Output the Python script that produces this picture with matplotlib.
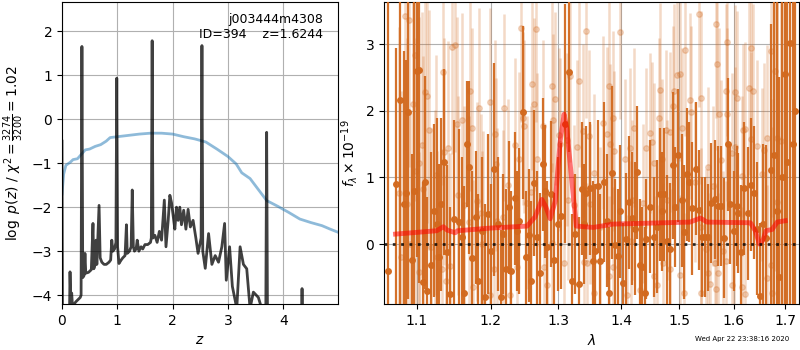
"""Redshift fit summary: log p(z) panel and 1D spectrum panel."""

import matplotlib
matplotlib.use("Agg")
import matplotlib.pyplot as plt
from matplotlib.ticker import FixedLocator, NullLocator, FormatStrFormatter
import numpy as np

# ---- left panel: p(z) and scaled chi2 ----
pz_z = [0.0, 0.01, 0.13, 0.145, 0.16, 0.175, 0.19, 0.25, 0.33, 0.345, 0.36, 0.375,
        0.40, 0.415, 0.43, 0.48, 0.53, 0.56, 0.575, 0.60, 0.615, 0.63, 0.67, 0.69,
        0.72, 0.76, 0.80, 0.85, 0.88, 0.90, 0.92, 0.95, 0.975, 0.99, 1.005, 1.03,
        1.07, 1.10, 1.14, 1.165, 1.18, 1.22, 1.25, 1.27, 1.29, 1.31, 1.34, 1.36,
        1.39, 1.43, 1.46, 1.50, 1.55, 1.60, 1.615, 1.63, 1.645, 1.68, 1.72, 1.76,
        1.80, 1.85, 1.88, 1.92, 1.95, 1.98, 2.01, 2.04, 2.07, 2.10, 2.13, 2.16,
        2.20, 2.24, 2.28, 2.32, 2.37, 2.42, 2.46, 2.50, 2.515, 2.53, 2.545, 2.59,
        2.65, 2.71, 2.77, 2.83, 2.89, 2.94, 2.97, 3.03, 3.08, 3.16, 3.22, 3.28,
        3.34, 3.40, 3.46, 3.55, 3.61, 3.685, 3.70, 3.715, 3.73, 4.32, 4.34, 4.36, 4.99]
pz_log = [-0.5, -5.0, -5.0, -3.47, -4.2, -3.95, -4.25, -4.15, -4.05, -4.0, 1.65, -3.6,
          -3.55, -3.05, -3.5, -3.48, -3.42, -2.37, -3.4, -3.3, -2.75, -3.3, -1.96, -3.15,
          -3.25, -3.3, -3.3, -3.25, -3.2, -2.75, -3.0, -2.95, -2.8, 0.93, -2.9, -3.28,
          -3.2, -3.15, -3.1, -2.4, -3.05, -3.0, -2.9, -1.61, -2.9, -3.0, -2.95, -2.75,
          -3.0, -2.9, -2.95, -2.85, -2.85, -2.8, -2.7, 1.78, -2.7, -2.64, -2.8, -2.55,
          -2.75, -1.84, -2.9, -2.3, -1.73, -1.9, -2.2, -2.5, -2.0, -2.3, -2.0, -2.4,
          -2.07, -2.5, -2.05, -2.45, -2.3, -2.7, -3.05, -2.8, -2.7, 1.67, -3.0, -3.39,
          -2.6, -3.3, -3.1, -3.25, -2.9, -2.37, -3.66, -2.9, -3.8, -4.3, -2.9, -3.3,
          -3.4, -4.3, -3.93, -4.05, -4.3, -4.3, -0.3, -4.5, -5.0, -5.0, -3.85, -5.0, -5.0]

chi2_z = [0.0, 0.03, 0.07, 0.15, 0.2, 0.28, 0.35, 0.42, 0.5, 0.6, 0.7, 0.8, 0.87,
          1.0, 1.2, 1.4, 1.6, 1.8, 2.0, 2.2, 2.4, 2.6, 2.8, 3.0, 3.15, 3.25, 3.4,
          3.55, 3.7, 3.9, 4.1, 4.3, 4.5, 4.7, 4.85, 4.99]
chi2_scaled = [-1.7, -1.25, -1.05, -0.98, -0.92, -0.9, -0.8, -0.7, -0.68, -0.62, -0.58,
               -0.5, -0.42, -0.4, -0.37, -0.34, -0.32, -0.32, -0.34, -0.4, -0.45, -0.52,
               -0.68, -0.85, -1.02, -1.22, -1.35, -1.6, -1.85, -1.98, -2.12, -2.27, -2.35,
               -2.42, -2.5, -2.57]

# ---- right panel: spectrum (two beams) and model ----
dark_wave = [1.0628, 1.0735, 1.0785, 1.0830, 1.0853, 1.0887, 1.0930, 1.0965, 1.1000, 1.1033,
             1.1077, 1.1110, 1.1137, 1.1180, 1.1220, 1.1260, 1.1295, 1.1320, 1.1360, 1.1400,
             1.1445, 1.1490, 1.1555, 1.1600, 1.1632, 1.1664, 1.1705, 1.1746, 1.1790, 1.1830,
             1.1880, 1.1925, 1.1970, 1.2010, 1.2056, 1.2100, 1.2143, 1.2180, 1.2220, 1.2260,
             1.2297, 1.2346, 1.2380, 1.2414, 1.2463, 1.2510, 1.2553, 1.2583, 1.2632, 1.2680,
             1.2718, 1.2762, 1.2792, 1.2833, 1.2882, 1.2935, 1.2990, 1.3046, 1.3108, 1.3170,
             1.3220, 1.3264, 1.3316, 1.3363, 1.3400, 1.3440, 1.3490, 1.3544, 1.3581, 1.3618,
             1.3663, 1.3716, 1.3770, 1.3797, 1.3846, 1.3902, 1.3945, 1.3990, 1.4035, 1.4077,
             1.4127, 1.4184, 1.4228, 1.4268, 1.4312, 1.4357, 1.4405, 1.4428, 1.4496, 1.4552,
             1.4610, 1.4655, 1.4695, 1.4735, 1.4790, 1.4838, 1.4895, 1.4930, 1.4980, 1.5040,
             1.5087, 1.5130, 1.5175, 1.5228, 1.5298, 1.5358, 1.5400, 1.5460, 1.5520, 1.5580,
             1.5640, 1.5700, 1.5760, 1.5820, 1.5880, 1.5935, 1.5995, 1.6055, 1.6085, 1.6135,
             1.6190, 1.6260, 1.6330, 1.6390, 1.6440, 1.6510, 1.6560, 1.6615, 1.6710, 1.6770,
             1.6830, 1.6875, 1.6930, 1.6990, 1.7035, 1.7090, 1.7150, 1.7200]
dark_flux = [-0.41, 0.90, 2.16, 0.60, 0.76, 1.98, -0.24, 0.80, 2.60, 2.62,
             -0.57, 0.93, -0.70, -0.32, 0.50, 0.30, -0.20, 0.60, 1.23, -0.12,
             -0.75, 0.37, 0.33, 0.10, -0.73, 1.50, 1.15, -0.21, 0.40, -0.55,
             0.20, -0.80, 0.45, -0.10, 1.12, 0.30, -0.79, 0.15, -0.37, 0.55,
             -0.41, 0.69, 0.20, 0.35, 1.98, -0.20, 0.13, -0.55, 0.92, 0.10,
             -0.44, 1.20, 0.79, -0.05, 0.75, -0.24, 0.30, 0.42, 1.81, 2.58,
             -0.55, 0.15, -0.60, 0.83, 0.30, 0.77, 0.84, -0.25, -0.10, 0.87,
             -0.25, 0.93, 0.35, -0.74, 1.07, -0.02, -0.18, 0.49, -0.59, 0.07,
             0.63, 0.39, 0.23, 1.08, -0.32, -0.34, -0.74, 0.07, 0.56, 0.10,
             0.26, 0.75, 0.49, 0.75, 0.04, -0.08, 1.18, 0.56, 1.33, 0.66,
             0.18, 1.05, 0.93, 0.54, 1.13, 0.51, 0.10, 0.10, 0.10, 0.62,
             0.67, 0.57, 0.57, 0.09, 1.50, 0.60, 0.19, 0.57, 0.47, -0.12,
             0.84, 0.46, 0.89, 0.77, 0.23, -0.78, 0.30, 0.09, 1.11, 1.33,
             0.50, -0.49, 1.00, 2.55, 1.23, 3.02, 1.50, 2.00]
dark_err = [6.0, 2.05, 3.5, 2.3, 2.0, 2.8, 1.6, 3.0, 2.8, 3.2,
            1.5, 1.6, 1.4, 1.7, 1.3, 1.6, 1.4, 1.3, 1.4, 1.3,
            1.3, 1.5, 1.4, 1.2, 1.6, 0.95, 1.3, 1.3, 1.0, 1.3,
            1.1, 1.4, 1.2, 1.0, 1.6, 1.0, 1.0, 0.9, 1.2, 1.0,
            1.2, 1.0, 0.9, 1.1, 1.3, 1.0, 1.0, 1.2, 1.1, 1.0,
            1.2, 1.0, 1.0, 1.0, 1.1, 1.0, 1.0, 1.1, 1.8, 1.2,
            1.0, 0.9, 1.0, 1.0, 0.9, 1.0, 1.0, 1.2, 1.0, 1.0,
            1.0, 1.2, 1.0, 1.0, 1.3, 1.0, 1.0, 1.0, 0.9, 1.0,
            1.0, 1.0, 1.0, 1.0, 1.0, 0.9, 1.0, 0.9, 1.0, 0.9,
            1.0, 1.0, 0.9, 1.0, 1.0, 1.0, 1.1, 0.9, 1.0, 1.0,
            1.0, 1.0, 0.9, 1.0, 1.0, 0.9, 0.9, 0.9, 0.8, 0.9,
            0.9, 0.9, 0.9, 0.9, 1.0, 0.9, 0.9, 0.9, 0.9, 1.0,
            1.0, 1.0, 1.0, 1.0, 1.0, 1.1, 1.2, 1.4, 2.2, 2.6,
            4.0, 3.0, 5.0, 4.0, 4.0, 5.0, 5.0, 6.0]

light_wave = [1.0770, 1.0790, 1.0845, 1.0875, 1.0900, 1.0905, 1.0945, 1.0970, 1.0990, 1.1030,
              1.1031, 1.1060, 1.1080, 1.1105, 1.1128, 1.1160, 1.1180, 1.1237, 1.1250, 1.1265,
              1.1335, 1.1350, 1.1360, 1.1380, 1.1405, 1.1440, 1.1470, 1.1500, 1.1535, 1.1550,
              1.1600, 1.1630, 1.1695, 1.1710, 1.1746, 1.1760, 1.1815, 1.1840, 1.1860, 1.1880,
              1.1900, 1.1993, 1.1999, 1.2045, 1.2060, 1.2075, 1.2085, 1.2185, 1.2199, 1.2255,
              1.2285, 1.2350, 1.2386, 1.2410, 1.2434, 1.2463, 1.2490, 1.2530, 1.2584, 1.2600,
              1.2627, 1.2657, 1.2680, 1.2762, 1.2780, 1.2832, 1.2897, 1.2910, 1.2925, 1.2943,
              1.3006, 1.3020, 1.3085, 1.3140, 1.3150, 1.3177, 1.3247, 1.3297, 1.3325, 1.3393,
              1.3400, 1.3440, 1.3445, 1.3475, 1.3500, 1.3555, 1.3560, 1.3663, 1.3705, 1.3770,
              1.3797, 1.3800, 1.3825, 1.3870, 1.3875, 1.3880, 1.3980, 1.4070, 1.4100, 1.4155,
              1.4160, 1.4184, 1.4212, 1.4323, 1.4366, 1.4417, 1.4496, 1.4523, 1.4552, 1.4555,
              1.4610, 1.4638, 1.4655, 1.4695, 1.4712, 1.4770, 1.4775, 1.4838, 1.4840, 1.4883,
              1.4912, 1.4963, 1.5010, 1.5012, 1.5050, 1.5087, 1.5094, 1.5182, 1.5210, 1.5280,
              1.5360, 1.5385, 1.5386, 1.5388, 1.5490, 1.5520, 1.5522, 1.5550, 1.5610, 1.5640,
              1.5660, 1.5670, 1.5680, 1.5700, 1.5730, 1.5760, 1.5790, 1.5850, 1.5855, 1.5870,
              1.5875, 1.5965, 1.5967, 1.5995, 1.6025, 1.6027, 1.6060, 1.6150, 1.6152, 1.6175,
              1.6210, 1.6212, 1.6280, 1.6320, 1.6330, 1.6375, 1.6450, 1.6550, 1.6570, 1.6640,
              1.6642, 1.6710, 1.6712, 1.6740, 1.6800, 1.6835, 1.6845, 1.6915, 1.6980]
light_flux = [0.76, -0.20, 3.42, 0.60, 3.36, 0.00, 2.10, 2.84, 1.09, 1.21,
              -0.42, 1.49, 0.83, 2.28, 2.22, 1.71, -0.05, 0.22, 1.04, -0.20,
              -0.37, 2.59, 1.39, -0.56, 1.45, -0.33, 2.96, 2.99, 1.81, 0.73,
              1.87, 0.58, 0.33, 2.30, 1.75, -0.64, 0.64, 2.05, 0.46, 0.00,
              0.20, -0.77, 2.14, -0.37, 1.66, 1.20, 0.35, 0.41, 2.05, 0.88,
              -0.77, 1.49, -0.35, 1.28, 3.24, 1.89, 1.77, 0.62, 0.78, 2.41,
              2.10, 3.23, 1.27, 1.77, -0.35, -0.62, 2.38, 0.02, 1.86, 2.18,
              1.64, 1.50, -0.29, 1.57, 0.66, 2.53, 0.59, 1.46, 2.45, 1.70,
              -0.27, 3.20, -0.29, 1.62, 0.60, 1.06, -0.73, 0.26, 1.82, 1.66,
              2.37, -0.48, 1.50, 1.90, -0.34, 1.40, 3.18, 1.28, -0.77, 1.44,
              0.04, 0.66, 1.75, -0.69, 0.61, 1.44, 1.67, 1.53, 1.22, -0.48,
              -0.61, 1.89, 2.32, 1.28, -0.29, 1.71, 0.66, 1.68, -0.37, 2.08,
              2.30, 2.54, 2.55, -0.46, 1.74, -0.74, 2.92, 2.17, 1.98, 0.93,
              3.46, 2.20, 0.25, -0.74, -0.07, 1.16, -0.43, -0.60, 0.87, -0.29,
              3.30, -0.68, 2.71, -0.44, 1.95, 1.26, -0.10, -0.25, 2.30, 3.03,
              1.95, 1.37, -0.61, 0.20, 2.29, 1.46, 2.20, 1.02, -0.64, 1.71,
              1.73, -0.75, 2.34, 2.94, 1.58, 2.30, 1.47, 1.05, 1.42, 1.59,
              -0.51, 2.90, -0.32, -0.74, 2.60, 1.60, 0.63, 1.55, 1.00]
light_err = [2.5, 2.5, 2.0, 2.5, 2.2, 2.0, 2.0, 2.2, 2.0, 2.2,
             1.8, 2.0, 2.0, 1.8, 1.9, 1.8, 1.8, 1.8, 1.8, 1.6,
             1.8, 1.7, 1.7, 1.6, 1.6, 1.7, 1.6, 1.6, 1.6, 1.5,
             1.6, 1.5, 1.6, 1.5, 1.5, 1.6, 1.5, 1.5, 1.5, 1.4,
             1.5, 1.5, 1.4, 1.4, 1.4, 1.3, 1.4, 1.3, 1.4, 1.3,
             1.4, 1.3, 1.3, 1.3, 1.4, 1.3, 1.3, 1.3, 1.3, 1.3,
             1.3, 1.4, 1.3, 1.3, 1.2, 1.3, 1.3, 1.2, 1.3, 1.3,
             1.3, 1.3, 1.3, 1.3, 1.2, 1.3, 1.2, 1.3, 1.3, 1.3,
             1.2, 1.3, 1.2, 1.3, 1.2, 1.2, 1.2, 1.2, 1.3, 1.3,
             1.3, 1.2, 1.2, 1.3, 1.2, 1.2, 1.3, 1.2, 1.2, 1.2,
             1.2, 1.2, 1.2, 1.2, 1.2, 1.2, 1.2, 1.2, 1.2, 1.2,
             1.2, 1.2, 1.3, 1.2, 1.2, 1.2, 1.2, 1.2, 1.2, 1.2,
             1.3, 1.3, 1.3, 1.2, 1.2, 1.2, 1.3, 1.3, 1.3, 1.2,
             1.4, 1.3, 1.2, 1.2, 1.2, 1.2, 1.2, 1.2, 1.2, 1.2,
             1.4, 1.2, 1.3, 1.2, 1.3, 1.2, 1.2, 1.2, 1.3, 1.4,
             1.3, 1.2, 1.2, 1.2, 1.3, 1.2, 1.3, 1.2, 1.2, 1.3,
             1.3, 1.2, 1.3, 1.4, 1.3, 1.3, 1.3, 1.3, 1.3, 1.4,
             1.4, 2.5, 2.5, 2.5, 3.0, 3.0, 3.5, 4.0, 5.0]

model_wave = [1.0725, 1.126, 1.135, 1.140, 1.151, 1.154, 1.1995, 1.253, 1.265, 1.275,
              1.281, 1.2877, 1.2955, 1.303, 1.309, 1.313, 1.319, 1.328, 1.355, 1.387,
              1.519, 1.538, 1.550, 1.6316, 1.641, 1.649, 1.656, 1.662, 1.674, 1.684, 1.700]
model_flux = [0.15, 0.20, 0.26, 0.21, 0.17, 0.20, 0.24, 0.27, 0.41, 0.67,
              0.56, 0.38, 0.65, 1.55, 1.95, 1.75, 1.15, 0.27, 0.25, 0.30,
              0.33, 0.39, 0.33, 0.32, 0.20, 0.00, 0.06, 0.20, 0.22, 0.33, 0.35]

wave_ticks = [1.1, 1.2, 1.3, 1.4, 1.5, 1.6, 1.7]

title_text = "j003444m4308\nID=394    z=1.6244"
stamp_text = "Wed Apr 22 23:38:16 2020"

ORANGE = "#d2691e"

fig = plt.figure(figsize=(8, 3.5), dpi=100)

# p(z) panel
ax = fig.add_axes([0.0775, 0.1314, 0.345, 0.8629])
ax.plot(chi2_z, chi2_scaled, color="#1f77b4", alpha=0.5, lw=2)
ax.plot(pz_z, pz_log, color="k", alpha=0.75, lw=2)
ax.set_xlim(0, 4.99)
ax.set_ylim(-4.2, 2.66)
ax.set_xlabel("$z$")
ax.set_ylabel(r"$\log\ p(z)$ / $\chi^2=\frac{3274}{3200}=1.02$")
ax.text(0.945, 0.965, title_text, ha="right", va="top", fontsize=9,
        transform=ax.transAxes)
ax.grid(True)

# spectrum panel
ax = fig.add_axes([0.48, 0.1314, 0.51875, 0.8629])
ax.errorbar(light_wave, light_flux, yerr=light_err, color=ORANGE, alpha=0.25,
            marker="o", markersize=4, linestyle="none", elinewidth=1.8, zorder=2)
ax.errorbar(dark_wave, dark_flux, yerr=dark_err, color=ORANGE, alpha=0.95,
            marker="o", markersize=4, linestyle="none", elinewidth=1.6, zorder=3)
ax.plot(model_wave, model_flux, color="r", alpha=0.55, lw=3.5, zorder=4)
ax.axhline(0, color="k", linestyle=(0, (1, 2)), lw=2, alpha=0.8, zorder=5)
ax.set_xscale("log")
ax.xaxis.set_major_locator(FixedLocator(wave_ticks))
ax.xaxis.set_major_formatter(FormatStrFormatter("%.1f"))
ax.xaxis.set_minor_locator(NullLocator())
ax.set_xlim(1.058, 1.728)
ax.set_ylim(-0.9, 3.635)
ax.set_xlabel(r"$\lambda$")
ax.set_ylabel(r"$f_\lambda \times 10^{-19}$")
ax.grid(True)

fig.text(0.986, 0.031, stamp_text, ha="right", va="center", fontsize=5)

fig.savefig("out.png", dpi=100)
plt.close(fig)
